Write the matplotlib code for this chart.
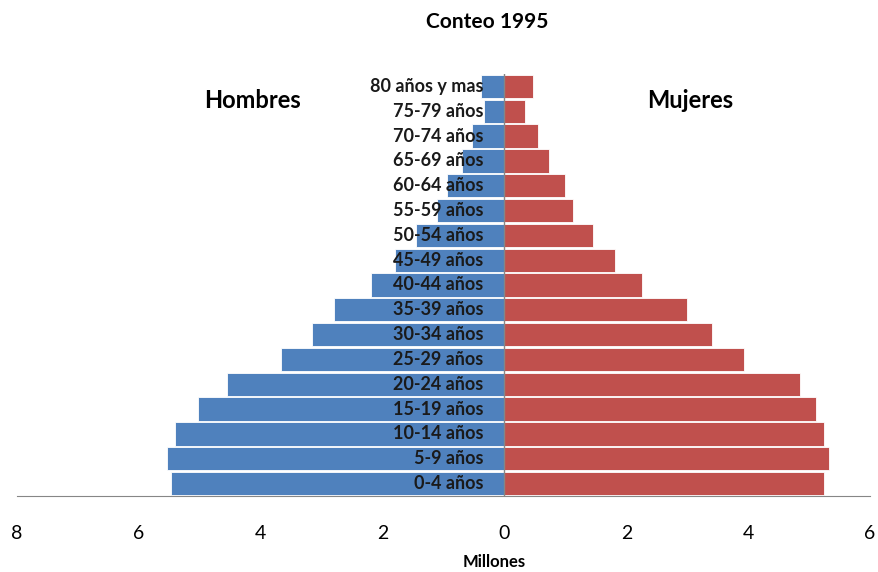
"""Population pyramid, Conteo 1995."""
import matplotlib
matplotlib.use('Agg')
import matplotlib.pyplot as plt
import numpy as np

plt.rcParams['font.family'] = ['Lato', 'DejaVu Sans']

# ===== DATA (millions) =====
grupos = ['0-4 años', '5-9 años', '10-14 años', '15-19 años', '20-24 años',
          '25-29 años', '30-34 años', '35-39 años', '40-44 años', '45-49 años',
          '50-54 años', '55-59 años', '60-64 años', '65-69 años', '70-74 años',
          '75-79 años', '80 años y mas']
hombres = [5.47, 5.53, 5.41, 5.03, 4.56, 3.66, 3.16, 2.80, 2.19, 1.79,
           1.45, 1.11, 0.95, 0.69, 0.53, 0.33, 0.39]
mujeres = [5.25, 5.33, 5.25, 5.11, 4.85, 3.93, 3.40, 3.00, 2.25, 1.82,
           1.45, 1.13, 0.99, 0.73, 0.55, 0.33, 0.47]
xticks = [-8, -6, -4, -2, 0, 2, 4, 6]
xticklabels = ['8', '6', '4', '2', '0', '2', '4', '6']

fig = plt.figure(figsize=(8.79, 5.72), dpi=100)
ax = fig.add_axes([17/879, 1 - 496/572, (870 - 17)/879, (496 - 74)/572])

y = np.arange(len(grupos))
ax.barh(y, -np.array(hombres), height=0.94, color='#4F81BD', edgecolor='white', linewidth=0.6)
ax.barh(y, mujeres, height=0.94, color='#C0504D', edgecolor='white', linewidth=0.6)

ax.set_xlim(-8, 6)
ax.set_ylim(-0.5, 16.5)

# axes styling
for s in ['top', 'right', 'left']:
    ax.spines[s].set_visible(False)
ax.spines['bottom'].set_color('#868686')
ax.axvline(0, color='#868686', linewidth=1, ymin=0, ymax=1)
ax.set_yticks([])
ax.set_xticks(xticks)
ax.set_xticklabels(xticklabels, fontsize=14)
ax.tick_params(axis='x', length=0, pad=21)

# category labels next to the centre axis
for yi, g in zip(y, grupos):
    ax.annotate(g, xy=(0, yi), xytext=(-15, 0), textcoords='offset points',
                ha='right', va='center', fontsize=13, fontweight='bold', color='#1a1a1a')

fig.text(487/879, 1 - 22/572, 'Conteo 1995', ha='center', va='center', fontsize=15, fontweight='bold')
fig.text(253/879, 1 - 101/572, 'Hombres', ha='center', va='center', fontsize=17, fontweight='bold')
fig.text(690/879, 1 - 101/572, 'Mujeres', ha='center', va='center', fontsize=17, fontweight='bold')
fig.text(494/879, 1 - 562/572, 'Millones', ha='center', va='center', fontsize=12, fontweight='bold')

plt.savefig('out.png', dpi=100, facecolor='white')
